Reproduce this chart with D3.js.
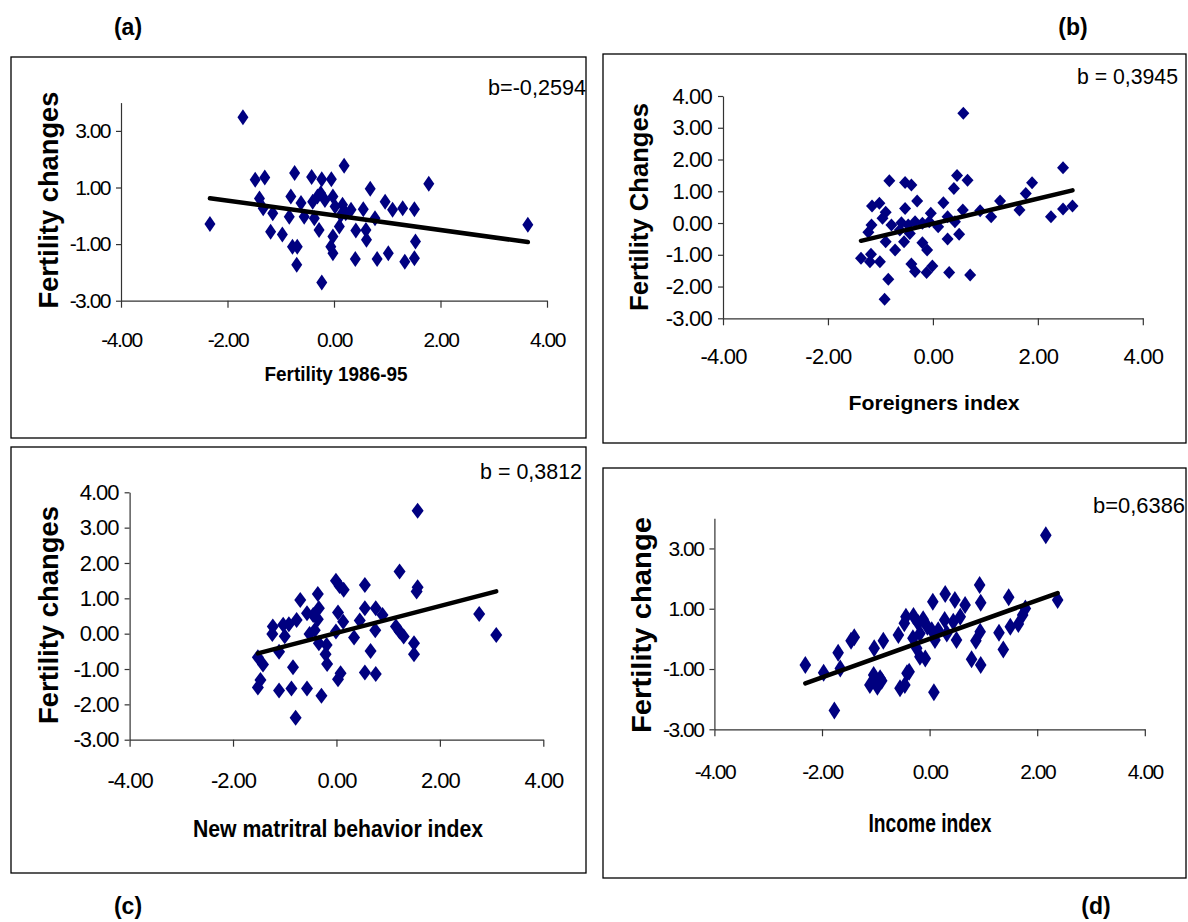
<!DOCTYPE html>
<html>
<head>
<meta charset="utf-8">
<script src="https://cdn.jsdelivr.net/npm/d3@7"></script>
<style>
body{margin:0;background:#fff;}
svg text{font-family:"Liberation Sans",Arial,sans-serif;fill:#000;}
</style>
</head>
<body>
<svg id="chart" width="1188" height="922"></svg>
<script>
// values
var xTicks=[-4,-2,0,2,4];
var yTicksOdd=[-3,-1,1,3];
var yTicksAll=[-3,-2,-1,0,1,2,3,4];

var aX=[-1.71,-2.33,1.78,-1.48,-1.30,-0.74,-0.42,-0.23,-0.05,0.19,0.68,-1.40,-1.33,-1.15,-1.19,-0.97,-0.81,-0.84,-0.78,-0.69,-0.70,-0.62,-0.56,-0.40,-0.31,-0.25,-0.17,-0.28,-0.37,-0.23,-0.02,0.02,0.16,0.10,-0.02,-0.06,-0.02,0.22,0.41,0.55,0.60,0.61,0.77,0.40,0.81,1.02,0.96,1.10,1.29,1.51,1.53,1.51,1.33,3.64,0.13,0.32];
var aY=[3.48,-0.29,1.13,1.27,1.35,1.51,1.37,1.29,1.29,1.77,0.96,0.61,0.27,0.09,-0.56,-0.66,0.68,-0.03,-1.09,-1.09,-1.73,0.45,-0.03,0.50,0.68,0.80,0.56,-0.50,-0.09,-2.36,0.68,0.33,0.39,-0.38,-0.73,-1.09,-1.32,0.09,-0.52,0.23,-0.50,-0.85,-0.09,-1.53,-1.53,-1.32,0.50,0.21,0.27,0.23,-0.91,-1.50,-1.62,-0.32,0.03,0.21];

var bX=[0.58,2.48,2.66,2.48,2.25,1.89,1.77,1.65,1.28,1.11,0.90,0.57,0.66,0.46,0.40,0.20,0.28,0.42,0.50,0.28,0.71,0.31,-0.83,-0.53,-0.41,-0.30,-0.53,-1.16,-1.02,-0.90,-0.96,-1.17,-1.23,-0.79,-0.60,-0.47,-0.44,-0.55,-0.90,-0.72,-0.20,-0.11,-0.20,-0.04,0.10,-0.07,-1.37,-1.18,-1.20,-1.01,-0.85,-0.92,-0.41,-0.34,-0.12,-0.01,-0.34,-0.63];
var bY=[3.46,1.74,0.54,0.44,0.20,1.27,0.93,0.41,0.69,0.20,0.39,0.41,1.35,1.50,1.09,0.64,0.20,0.04,-0.35,-0.50,-1.64,-1.56,1.33,1.28,1.20,0.69,0.46,0.54,0.62,0.34,0.15,-0.06,-0.29,-0.06,0.01,-0.06,-0.33,-0.59,-0.59,-0.85,-0.62,-0.85,-0.01,0.31,-0.12,0.04,-1.11,-0.98,-1.22,-1.22,-1.77,-2.40,-1.29,-1.53,-1.56,-1.35,0.04,-0.22];

var cX=[1.57,1.22,1.57,1.55,2.76,3.09,0.55,-0.01,0.06,0.14,-0.36,-0.70,0.55,0.76,0.89,0.03,0.13,0.45,0.75,1.15,1.22,1.30,1.50,1.50,0.66,0.55,0.76,0.34,-0.01,-0.57,-0.45,-0.34,-0.36,-0.42,-0.52,-0.34,-0.19,-0.21,-0.18,-0.77,-0.92,-1.03,-1.23,-1.24,-1.00,-1.11,-1.52,-1.42,-0.84,-1.47,-1.52,-1.11,-0.87,-0.57,-0.29,-0.79,0.03,0.08];
var cY=[3.48,1.76,1.31,1.19,0.56,-0.04,1.38,1.50,1.35,1.24,1.12,0.95,0.72,0.72,0.53,0.60,0.34,0.37,0.10,0.20,0.06,-0.08,-0.27,-0.58,-0.49,-1.10,-1.14,-0.11,0.06,0.58,0.53,0.72,0.41,0.10,-0.01,-0.27,-0.32,-0.58,-0.86,0.39,0.27,0.25,0.20,-0.01,-0.07,-0.51,-0.67,-0.87,-0.95,-1.31,-1.52,-1.61,-1.55,-1.55,-1.76,-2.38,-1.29,-1.12];

var dX=[2.16,2.38,-2.31,-1.97,-1.77,-1.70,-1.66,-1.46,-1.40,-1.03,-0.86,-1.04,-0.92,-1.11,-0.97,-0.89,-0.55,-0.46,-0.38,0.08,-0.58,-0.47,-0.44,-0.30,-0.31,-0.24,-0.18,-0.08,-0.12,-0.04,0.04,0.10,0.06,0.29,0.28,0.32,0.47,0.66,0.57,0.44,0.50,0.93,0.95,0.94,0.86,0.78,0.95,1.29,1.37,1.47,1.50,1.65,1.73,1.78,-0.42,-0.21,0.16,-1.01,-0.18];
var dY=[3.44,1.29,-0.87,-1.12,-2.38,-0.46,-0.98,-0.06,0.05,-0.31,-0.06,-1.20,-1.31,-1.53,-1.59,-1.39,-1.64,-1.53,-1.09,-1.77,0.13,0.52,0.73,0.76,0.02,-0.31,-0.59,-0.65,0.65,0.40,0.29,-0.04,1.23,1.49,0.63,0.18,1.29,1.12,0.73,0.57,-0.04,1.79,1.20,0.24,-0.06,-0.68,-0.87,0.20,-0.35,1.38,0.40,0.49,0.79,1.01,-1.14,0.52,0.29,-1.34,0.18];

// regression slope (b) and intercept
var aSlope=-0.2594, aIntercept=0.016;
var bSlope=0.3945, bIntercept=-0.02;
var cSlope=0.3812, cIntercept=0.02;
var dSlope=0.6386, dIntercept=0.0;

var panels=[
  {xs:aX,ys:aY,slope:aSlope,icpt:aIntercept,yTicks:yTicksOdd,box:[11,57,586,438],
   x0:121,x1:547,y0:300.7,y1:102.6,xLabY:340,tickFont:21,tickSpacing:-1.5,
   yTitle:"Fertility changes",yTitleSize:27,yTitleLen:217,yTitlePos:[49,200],
   xTitle:"Fertility 1986-95",xTitleSize:21,xTitleLen:143,xTitlePos:[336,373],
   bText:"b=-0,2594",bEnd:586,bY:87,bLen:98,mw:5.5,mh:8,
   label:"(a)",labelPos:[128,27]},
  {xs:bX,ys:bY,slope:bSlope,icpt:bIntercept,yTicks:yTicksAll,box:[603,54,1186,443],
   x0:723,x1:1142.8,y0:318.3,y1:96,xLabY:356.7,tickFont:22,tickSpacing:-0.8,
   yTitle:"Fertility Changes",yTitleSize:26,yTitleLen:208,yTitlePos:[639,207],
   xTitle:"Foreigners index",xTitleSize:21,xTitleLen:171,xTitlePos:[934,402],
   bText:"b = 0,3945",bEnd:1178,bY:76,bLen:101,mw:6,mh:6.5,
   label:"(b)",labelPos:[1073,27]},
  {xs:cX,ys:cY,slope:cSlope,icpt:cIntercept,yTicks:yTicksAll,box:[11,447,586,873],
   x0:129.6,x1:543.3,y0:739.7,y1:492.3,xLabY:780,tickFont:22,tickSpacing:-1,
   yTitle:"Fertility changes",yTitleSize:27,yTitleLen:218,yTitlePos:[49,615],
   xTitle:"New matritral behavior index",xTitleSize:24,xTitleLen:290,xTitlePos:[338,828],
   bText:"b = 0,3812",bEnd:582,bY:471,bLen:102,mw:6,mh:8,
   label:"(c)",labelPos:[128,906]},
  {xs:dX,ys:dY,slope:dSlope,icpt:dIntercept,yTicks:yTicksOdd,box:[603,468,1186,878],
   x0:714.4,x1:1144.8,y0:729.3,y1:518.3,xLabY:771.7,tickFont:21,tickSpacing:-1.5,
   yTitle:"Fertility change",yTitleSize:28,yTitleLen:216,yTitlePos:[641,625],
   xTitle:"Income index",xTitleSize:25,xTitleLen:123,xTitlePos:[930,823],
   bText:"b=0,6386",bEnd:1185,bY:505,bLen:92,mw:5.8,mh:9,
   label:"(d)",labelPos:[1096,906]}
];

var svg=d3.select("#chart");
var fmt=function(d){return d.toFixed(2);};

panels.forEach(drawPanel);

function drawPanel(p){
  var g=svg.append("g");

  g.append("rect")
    .attr("x",p.box[0]).attr("y",p.box[1])
    .attr("width",p.box[2]-p.box[0]).attr("height",p.box[3]-p.box[1])
    .attr("fill","none").attr("stroke","#000").attr("stroke-width",1.3);

  var x=d3.scaleLinear().domain([-4,4]).range([p.x0,p.x1]);
  var y=d3.scaleLinear().domain([-3,4]).range([p.y0,p.y1]);

  var xAxis=d3.axisBottom(x).tickValues(xTicks).tickSize(7).tickSizeOuter(0).tickFormat(fmt);
  var gx=g.append("g").attr("transform","translate(0,"+p.y0+")").call(xAxis);
  gx.selectAll("text").attr("y",p.xLabY-p.y0).attr("dy","0.35em");

  var yAxis=d3.axisLeft(y).tickValues(p.yTicks).tickSize(5).tickSizeOuter(0).tickPadding(6).tickFormat(fmt);
  var gy=g.append("g").attr("transform","translate("+p.x0+",0)").call(yAxis);

  [gx,gy].forEach(function(a){
    a.select(".domain").attr("stroke","#333").attr("stroke-width",1.2);
    a.selectAll(".tick line").attr("stroke","#333").attr("stroke-width",1.2);
    a.selectAll("text")
      .style("font-family",'"Liberation Sans",Arial,sans-serif')
      .style("font-size",p.tickFont+"px")
      .style("letter-spacing",p.tickSpacing+"px")
      .attr("fill","#000");
  });

  // diamonds
  var pts=p.xs.map(function(v,i){return {x:v,y:p.ys[i]};});
  g.selectAll("path.pt").data(pts).enter().append("path")
    .attr("class","pt")
    .attr("d","M0,"+(-p.mh)+"L"+p.mw+",0L0,"+p.mh+"L"+(-p.mw)+",0Z")
    .attr("transform",function(d){return "translate("+x(d.x)+","+y(d.y)+")";})
    .attr("fill","#000080");

  // trend line over the data range
  var ext=d3.extent(p.xs);
  var linePts=ext.map(function(v){return {x:v,y:p.icpt+p.slope*v};});
  g.append("path")
    .datum(linePts)
    .attr("d",d3.line().x(function(d){return x(d.x);}).y(function(d){return y(d.y);}))
    .attr("stroke","#000").attr("stroke-width",4.5).attr("stroke-linecap","round").attr("fill","none");

  g.append("text")
    .attr("transform","translate("+p.yTitlePos[0]+","+p.yTitlePos[1]+") rotate(-90)")
    .attr("text-anchor","middle").attr("dominant-baseline","central")
    .attr("textLength",p.yTitleLen).attr("lengthAdjust","spacingAndGlyphs")
    .style("font-size",p.yTitleSize+"px").style("font-weight","bold")
    .text(p.yTitle);

  g.append("text")
    .attr("x",p.xTitlePos[0]).attr("y",p.xTitlePos[1])
    .attr("text-anchor","middle").attr("dominant-baseline","central")
    .attr("textLength",p.xTitleLen).attr("lengthAdjust","spacingAndGlyphs")
    .style("font-size",p.xTitleSize+"px").style("font-weight","bold")
    .text(p.xTitle);

  g.append("text")
    .attr("x",p.bEnd).attr("y",p.bY)
    .attr("text-anchor","end").attr("dominant-baseline","central")
    .attr("textLength",p.bLen).attr("lengthAdjust","spacingAndGlyphs")
    .style("font-size","22px")
    .text(p.bText);

  svg.append("text")
    .attr("x",p.labelPos[0]).attr("y",p.labelPos[1])
    .attr("text-anchor","middle").attr("dominant-baseline","central")
    .style("font-size","23px").style("font-weight","bold")
    .text(p.label);
}
</script>
</body>
</html>
